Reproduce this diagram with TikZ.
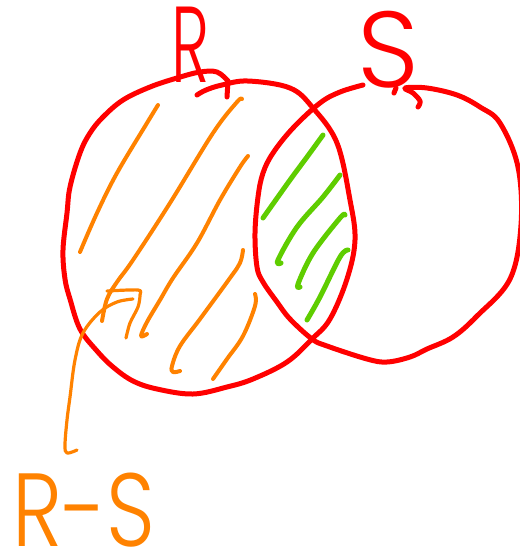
\documentclass[tikz,border=0pt]{standalone}
\usepackage{fontspec}
\newfontfamily\hand{Poppins Light}
\definecolor{sred}{RGB}{255,0,0}
\definecolor{sorange}{RGB}{255,130,0}
\definecolor{sgreen}{RGB}{95,205,0}
\tikzset{
  redline/.style={draw=sred, line width=5pt, line cap=round, line join=round},
  orline/.style={draw=sorange, line width=4pt, line cap=round, line join=round},
  arline/.style={draw=sorange, line width=3.2pt, line cap=round, line join=round},
  grline/.style={draw=sgreen, line width=5pt, line cap=round, line join=round},
  redlabel/.style={text=sred, inner sep=0pt, font=\hand\fontsize{108}{108}\selectfont},
  orlabel/.style={text=sorange, inner sep=0pt, font=\hand\fontsize{104}{104}\selectfont}
}
\begin{document}
\begin{tikzpicture}[x=1pt,y=-1pt]
\useasboundingbox (0,0) rectangle (520,558);
\begin{scope}
\clip (0,0) rectangle (520,558);
% hatching, orange (R - S)
\draw[orline] plot[smooth, tension=0.6] coordinates {(158,105) (147,123) (117,173) (97,213) (80,252)};
\draw[orline] plot[smooth, tension=0.6] coordinates {(242,99) (237,102) (213,133) (170,203) (133,260) (117,282) (107,299) (102,321)};
\draw[orline] plot[smooth, tension=0.6] coordinates {(248,156) (240,167) (220,200) (197,243) (173,278) (160,300) (147,322) (141,336) (147,334)};
\draw[orline] plot[smooth, tension=0.6] coordinates {(243,250) (240,263) (230,278) (200,319) (180,346) (172,366) (173,372) (180,371)};
\draw[orline] plot[smooth, tension=0.6] coordinates {(255,294) (255,306) (243,336) (227,359) (213,379)};
% hatching, green (R and S)
\draw[grline] plot[smooth, tension=0.6] coordinates {(323,135) (307,157) (290,180) (263,218)};
\draw[grline] plot[smooth, tension=0.6] coordinates {(340,175) (323,197) (297,227) (278,260) (281,263)};
\draw[grline] plot[smooth, tension=0.6] coordinates {(345,215) (340,218) (313,253) (298,284) (300,287)};
\draw[grline] plot[smooth, tension=0.6] coordinates {(348,250) (340,257) (320,297) (307,320)};
% circle R
\draw[redline] plot[smooth, tension=0.6] coordinates {(197,95) (206,90) (222,85) (248,81) (290,88) (313,108) (337,143) (350,200) (355,240) (347,279) (330,319) (312,339) (287,362) (253,379) (227,387) (193,394) (157,389) (133,381) (113,367) (97,351) (80,329) (70,299) (65,279) (63,250) (67,213) (70,187) (80,153) (90,133) (103,117) (123,100) (150,87) (177,78) (200,72) (217,72) (228,81)};
\draw[redline] (228,81) -- (227,97);
% circle S
\draw[redline] plot[smooth, tension=0.6] coordinates {(363,85) (340,92) (320,103) (293,128) (273,153) (263,173) (258,197) (255,233) (257,267) (263,282) (277,302) (290,319) (312,339) (327,346) (367,359) (387,362) (410,357) (427,349) (453,337) (477,316) (510,279) (521,225) (518,167) (500,123) (480,107) (457,95) (427,88) (405,88) (413,93) (420,101) (418,107)};
\draw[redline] (396,88) -- (394,93);
\end{scope}
% labels
\node[redlabel, anchor=base] (R) at (191,82) {\scalebox{0.6}[1]{R}};
\node[redlabel, anchor=base] (S) at (388,87) {S};
\node[orlabel, anchor=base] (RS) at (84,546) {\scalebox{0.82}[1]{R-S}};
% pointer from R-S into the hatched region
\coordinate (foot) at (77,450);
\coordinate (tip) at (133,299);
\draw[arline] plot[smooth, tension=0.6] coordinates {(foot) (67,453) (65,445) (67,420) (70,397) (75,360) (83,333) (100,312) (117,302) (tip)};
\draw[arline] plot[smooth, tension=0.5] coordinates {(107,291) (138,290) (140,295) (138,307) (130,323) (126,338)};
\end{tikzpicture}
\end{document}
